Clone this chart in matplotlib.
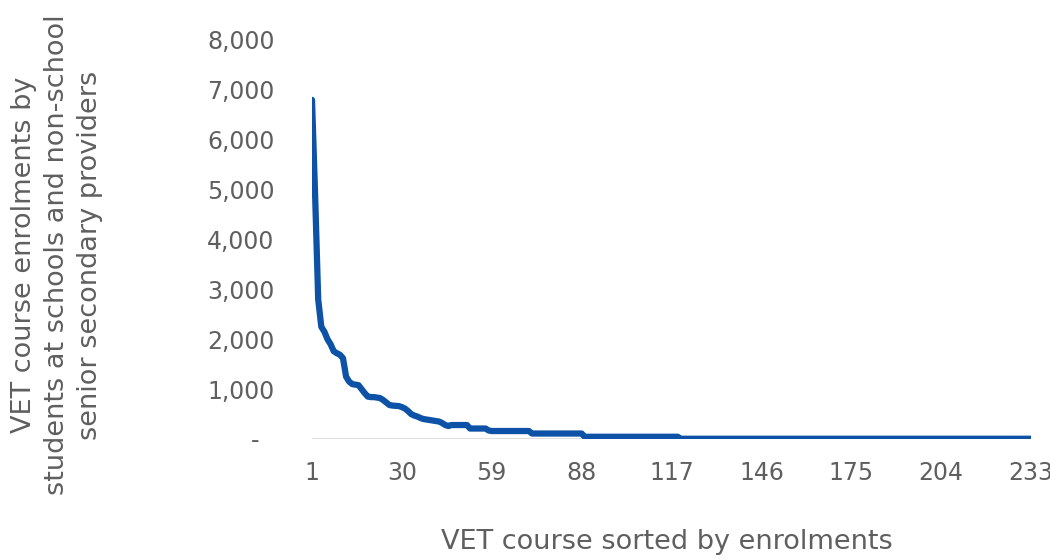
import matplotlib.pyplot as plt
import numpy as np

# head of the sorted series, courses 1..45
head = [6800, 4900, 2800, 2250, 2150, 2000, 1900, 1760, 1720, 1690,
        1620, 1250, 1150, 1100, 1090, 1080, 1000, 920, 850, 840,
        840, 830, 820, 780, 730, 680, 670, 665, 660, 640,
        610, 560, 500, 470, 450, 420, 400, 390, 380, 370,
        360, 350, 320, 280, 260]
# flat steps in the tail: level and how many courses sit on it
tail_levels = [280, 210, 170, 160, 110, 45, 5]
tail_counts = [6, 6, 1, 13, 17, 31, 114]

enrol = np.array(head + list(np.repeat(tail_levels, tail_counts)))
course = np.arange(1, len(enrol) + 1)

xticks = [1, 30, 59, 88, 117, 146, 175, 204, 233]
yticks = [0, 1000, 2000, 3000, 4000, 5000, 6000, 7000, 8000]
ylabels = ['-  '] + [f'{v:,}' for v in yticks[1:]]

plt.rcParams['font.family'] = ['DejaVu Sans']
grey = '#5f5f5f'

fig = plt.figure(figsize=(10.5, 5.59), dpi=100)
ax = fig.add_axes([312/1050, 1 - 439/559, (1031 - 312)/1050, (439 - 40)/559])

ax.axhline(0, color='#d9d9d9', lw=1.2, zorder=1)
ax.plot(course, enrol, color='#0d52a6', lw=4.5, solid_capstyle='round',
        solid_joinstyle='round', zorder=3)

ax.set_xlim(1, 233)
ax.set_ylim(0, 8000)
ax.set_xticks(xticks)
ax.set_yticks(yticks)
ax.set_yticklabels(ylabels)
ax.tick_params(axis='both', length=0, labelsize=17, labelcolor=grey)
ax.tick_params(axis='y', pad=27)
ax.tick_params(axis='x', pad=16)
for s in ax.spines.values():
    s.set_visible(False)

fig.text(667/1050, 1 - 542/559, 'VET course sorted by enrolments',
         ha='center', va='center', fontsize=19.5, color=grey)
fig.text(57/1050, 1 - 255/559,
         'VET course enrolments by\nstudents at schools and non-school\nsenior secondary providers',
         rotation=90, ha='center', va='center', fontsize=19.5, color=grey,
         linespacing=1.35, multialignment='center')

fig.savefig('out.png', dpi=100)
